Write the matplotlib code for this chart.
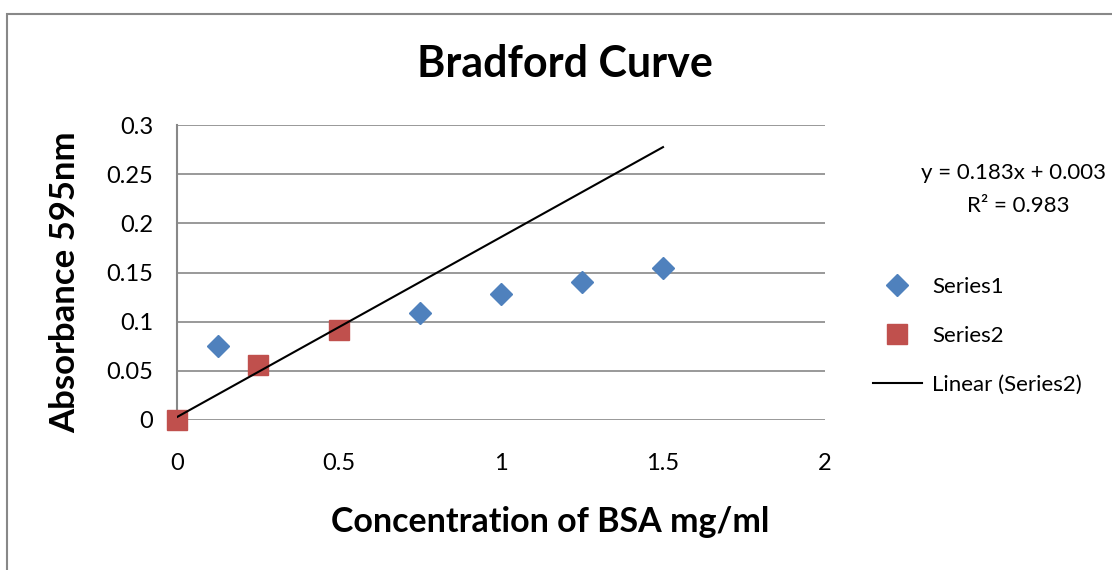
import numpy as np
import matplotlib.pyplot as plt
from matplotlib.patches import Rectangle

plt.rcParams['font.family'] = ['Lato', 'DejaVu Sans']

# data
x1 = [0.125, 0.75, 1.0, 1.25, 1.5]
y1 = [0.075, 0.109, 0.128, 0.140, 0.155]
x2 = [0, 0.25, 0.5]
y2 = [0, 0.056, 0.092]
slope = 0.183
icpt = 0.003
r2 = 0.983
xticks = [0, 0.5, 1, 1.5, 2]
yticks = [0, 0.05, 0.1, 0.15, 0.2, 0.25, 0.3]

W, H = 1112, 570
fig = plt.figure(figsize=(W / 100, H / 100), dpi=100)
# outer chart border (runs off the right and bottom edge)
fig.patches.append(Rectangle((7/W, -0.1), 1.2, 1 - 14/H + 0.1, transform=fig.transFigure,
                             fill=False, edgecolor='#888888', lw=1.5))

ax = fig.add_axes([177/W, 1 - 420/H, 648/W, 295/H])
ax.set_xlim(0, 2)
ax.set_ylim(0, 0.3)
ax.set_xticks(xticks)
ax.set_xticklabels([f'{t:g}' for t in xticks])
ax.set_yticks(yticks)
ax.set_yticklabels([f'{t:g}' for t in yticks])
ax.tick_params(length=0, labelsize=17)
ax.tick_params(axis='y', pad=17)
ax.tick_params(axis='x', pad=24)
for s in ['top', 'right', 'bottom']:
    ax.spines[s].set_visible(False)
ax.spines['left'].set_color('#888888')
ax.spines['left'].set_linewidth(1.5)
ax.yaxis.grid(True, color='#888888', lw=1.2)
ax.set_axisbelow(True)

ax.plot(x1, y1, 'D', color='#4F81BD', ms=11, mec='#4F81BD', label='Series1', clip_on=False, zorder=3)
ax.plot(x2, y2, 's', color='#C0504D', ms=14, mec='#C0504D', label='Series2', clip_on=False, zorder=3)
xt = np.array([0, 1.5])
ax.plot(xt, slope * xt + icpt, color='black', lw=1.5, label='Linear (Series2)', zorder=4)

fig.text(565/W, 1 - 64/H, 'Bradford Curve', fontsize=31, fontweight='bold', ha='center', va='center')
fig.text(550/W, 1 - 522/H, 'Concentration of BSA mg/ml', fontsize=24.5, fontweight='bold',
         ha='center', va='center')
fig.text(65/W, 1 - 282/H, 'Absorbance 595nm', fontsize=25, fontweight='bold', rotation=90,
         ha='center', va='center')

fig.text(921/W, 1 - 173/H, f'y = {slope}x + {icpt}', fontsize=16, ha='left', va='center')
fig.text(1018/W, 1 - 206/H, f'R² = {r2}', fontsize=16, ha='center', va='center')

ax.legend(loc='upper left', bbox_to_anchor=(873/W, 1 - 277/H), bbox_transform=fig.transFigure,
          frameon=False, fontsize=16, borderpad=0, borderaxespad=0,
          handlelength=2.2, labelspacing=1.3, handletextpad=0.45)

fig.savefig('out.png', dpi=100)
